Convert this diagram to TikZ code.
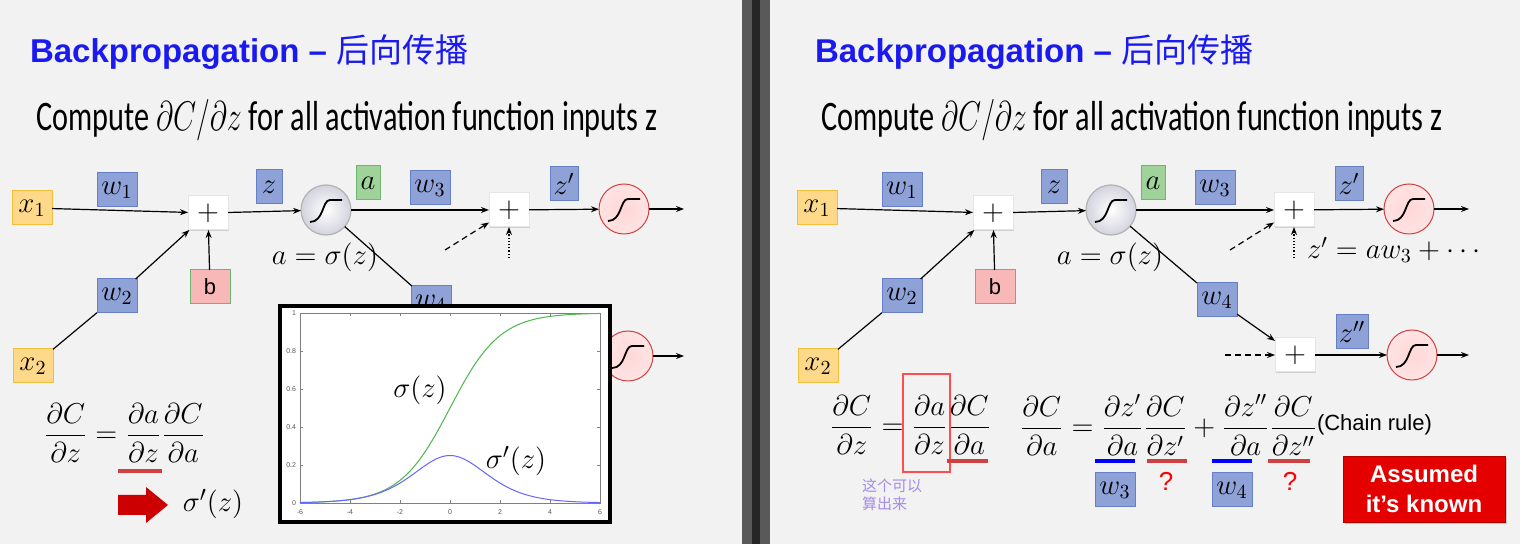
\documentclass[tikz,border=0pt]{standalone}
\usepackage{fontspec}
\usepackage{amsmath}
\setmainfont{Liberation Sans}
\newfontfamily\cjk{Noto Sans CJK SC}
\newfontfamily\carl{Carlito}
\usetikzlibrary{arrows.meta,shadows}
\definecolor{ttl}{HTML}{1A1AF0}
\definecolor{wbox}{HTML}{8EA2D8}\definecolor{wbd}{HTML}{6680C8}
\definecolor{xbox}{HTML}{FFD98A}\definecolor{xbd}{HTML}{F2BE3C}
\definecolor{abox}{HTML}{9FD39A}\definecolor{abd}{HTML}{6FB56F}
\definecolor{bbox}{HTML}{F8B8B8}
\definecolor{rc}{HTML}{FFBDBD}\definecolor{rcb}{HTML}{D04040}
\definecolor{bg}{HTML}{F2F2F2}
\definecolor{pur}{HTML}{A58CE8}
\begin{document}
\begin{tikzpicture}[x=0.5pt,y=-0.5pt,
  every node/.style={inner sep=0pt,outer sep=0pt},
  m/.style={font=\fontsize{14}{16}\selectfont},
  lm/.style={font=\fontsize{15.5}{18}\selectfont},
  eqf/.style={font=\fontsize{14.5}{17}\selectfont},
  bx/.style={m,draw,line width=0.5pt,minimum width=20pt,minimum height=17pt},
  wb/.style={bx,fill=wbox,draw=wbd},
  xb/.style={bx,fill=xbox,draw=xbd},
  ab/.style={bx,fill=abox,draw=abd,minimum width=12pt},
  bb/.style={bx,fill=bbox,draw=abd,font=\fontsize{11}{13}\selectfont},
  pl/.style={bx,fill=white,draw=gray!20,font=\fontsize{14}{15}\selectfont,drop shadow={shadow xshift=0.5pt,shadow yshift=-0.5pt,opacity=0.3}},
  sig/.style={circle,minimum size=25pt,draw=gray!60,line width=0.6pt,inner color=white,outer color=blue!15!gray!30},
  red/.style={circle,minimum size=25pt,draw=rcb,line width=0.5pt,inner color=rc!60,outer color=rc!120!red},
  ar/.style={-{Stealth[length=4pt,width=3pt]},line width=0.6pt},
  ttlf/.style={font=\fontsize{16.5}{19}\selectfont\bfseries,text=ttl,anchor=west},
  cmp/.style={font=\fontsize{21}{24}\carl,anchor=center,xscale=0.72},
]
\fill[bg] (0,0) rectangle (1520,544);
\fill[gray!70!black] (742,0) rectangle (770,544);
\fill[black!85] (752,0) rectangle (760,544);
\newcommand\Scurve[1]{\draw[line width=0.9pt] ([shift={(-16,12)}]#1.center) .. controls ([shift={(-2,12)}]#1.center) and ([shift={(-4,-10)}]#1.center) .. ([shift={(4,-10)}]#1.center) -- ([shift={(16,-10)}]#1.center);}
\newcommand\Net{%
  \node[ttlf] (title) at (30,52) {Backpropagation -- {\cjk\mdseries 后向传播}};
  \node[cmp] (comp) at (347,120) {Compute $\partial C/\partial z$ for all activation function inputs z};
  \node[xb] (x1) at (32,208) {$x_1$};
  \node[xb] (x2) at (33,366) {$x_2$};
  \node[wb] (w1) at (117,190) {$w_1$};
  \node[wb] (w2) at (117,296) {$w_2$};
  \node[pl] (p1) at (208,213) {$+$};
  \node[bb] (b) at (210,287) {b};
  \node[wb,minimum width=13pt] (z) at (269,187) {$z$};
  \node[sig] (s1) at (326,210) {};
  \node[ab] (a) at (368,183) {$a$};
  \node[lm] (asig) at (325,257) {$a=\sigma(z)$};
  \node[wb] (w3) at (430,188) {$w_3$};
  \node[pl] (p2) at (509,210) {$+$};
  \node[wb,minimum width=14pt] (zp) at (564,184) {$z'$};
  \node[red] (r1) at (624,209) {};
  \coordinate (o1) at (684,209);
  \coordinate (da) at (445,250);
  \coordinate (db) at (509,258);
  \draw[ar] (x1) -- (p1);
  \draw[line width=0.6pt] (x2) -- (w2);
  \draw[ar] (w2) -- (p1);
  \draw[ar] (b) -- (p1);
  \draw[ar] (p1) -- (s1);
  \draw[ar] (s1.east) -- (p2);
  \draw[ar] (p2) -- (r1);
  \draw[ar] (r1) -- (o1);
  \draw[ar,densely dashed] (da) -- (p2);
  \draw[ar,densely dotted] (db) -- (p2);
  \Scurve{s1}\Scurve{r1}
}
% ---------- left panel ----------
\begin{scope}[name prefix=L-]
\Net
\node[wb] (w4) at (431,303) {$w_4$};
\draw[line width=0.6pt] (s1) -- (w4);
\node[red] (r2) at (628,356) {};
\coordinate (o2) at (684,356);
\draw[ar] (r2) -- (o2);
\Scurve{r2}
\node[eqf,anchor=west] (eq) at (44,433) {$\dfrac{\partial C}{\partial z}=\dfrac{\partial a}{\partial z}\dfrac{\partial C}{\partial a}$};
\draw[red,line width=2pt] (118,471) -- (162,471);
\fill[red!80!black] (118,495) -- (146,495) -- (146,487) -- (168,505) -- (146,523) -- (146,515) -- (118,515) -- cycle;
\node[lm] (sp) at (213,504) {$\sigma'(z)$};
% plot
\fill[white,draw=black,line width=2pt,drop shadow={shadow xshift=1pt,shadow yshift=-1pt,opacity=0.4}] (280,306) rectangle (610,522);
\draw[gray,line width=0.4pt] (300,313) rectangle (600,503);
\foreach \t in {-6,-4,...,6}{
  \draw[gray,line width=0.3pt] ({450+25*\t},503) -- ++(0,-3) ({450+25*\t},313) -- ++(0,3);
  \node[font=\fontsize{3.5}{4}\selectfont,text=gray!70!black] at ({450+25*\t},512) {\t};}
\foreach \t/\l in {0/0,0.2/0.2,0.4/0.4,0.6/0.6,0.8/0.8,1/1}{
  \draw[gray,line width=0.3pt] (300,{503-190*\t}) -- ++(3,0) (600,{503-190*\t}) -- ++(-3,0);
  \node[font=\fontsize{3.5}{4}\selectfont,text=gray!70!black,anchor=east] at (296,{503-190*\t}) {\l};}
\draw[green!60!black!70,line width=0.5pt] plot[domain=-6:6,samples=100,smooth] ({450+25*\x},{503-190/(1+exp(-\x))});
\draw[blue!60,line width=0.5pt] plot[domain=-6:6,samples=100,smooth] ({450+25*\x},{503-190/((exp(\x/2)+exp(-\x/2))^2)});
\node[lm] (sg) at (420,390) {$\sigma(z)$};
\node[lm] (sgp) at (516,461) {$\sigma'(z)$};
\end{scope}
% ---------- right panel ----------
\begin{scope}[name prefix=R-,shift={(785,0)}]
\Net
\node[m,anchor=west] (zeq) at (522,250) {$z'=aw_3+\cdots$};
\node[wb] (w4) at (432,300) {$w_4$};
\node[pl] (p3) at (510,355) {$+$};
\node[wb,minimum width=16pt] (zpp) at (567,332) {$z''$};
\node[red] (r3) at (627,355) {};
\coordinate (o3) at (684,355);
\coordinate (dc) at (440,355);
\draw[line width=0.6pt] (s1) -- (w4);
\draw[ar] (w4) -- (p3);
\draw[ar] (p3) -- (r3);
\draw[ar] (r3) -- (o3);
\draw[ar,densely dashed] (dc) -- (p3);
\Scurve{r3}
\end{scope}
\node[eqf,anchor=west] (eq2) at (830,425) {$\dfrac{\partial C}{\partial z}=\dfrac{\partial a}{\partial z}\dfrac{\partial C}{\partial a}$};
\draw[red!70,line width=0.6pt] (903,374) rectangle (950,472);
\draw[red,line width=2pt] (947,461) -- (988,461);
\node[font=\fontsize{7.5}{9}\cjk,text=pur,align=left,anchor=north west] (cn) at (862,479) {这个可以\\算出来};
\node[eqf,anchor=west] (eq3) at (1020,425) {$\dfrac{\partial C}{\partial a}=\dfrac{\partial z'}{\partial a}\dfrac{\partial C}{\partial z'}+\dfrac{\partial z''}{\partial a}\dfrac{\partial C}{\partial z''}$};
\node[font=\fontsize{11}{13}\selectfont,anchor=west] (cr) at (1317,425) {(Chain rule)};
\draw[blue,line width=2pt] (1095,461) -- (1135,461) (1212,461) -- (1252,461);
\draw[red,line width=2pt] (1147,461) -- (1187,461) (1268,461) -- (1310,461);
\node[wb] (bw3) at (1115,490) {$w_3$};
\node[wb] (bw4) at (1232,490) {$w_4$};
\node[text=red,font=\fontsize{13}{15}\selectfont] (q1) at (1166,481) {?};
\node[text=red,font=\fontsize{13}{15}\selectfont] (q2) at (1290,481) {?};
\node[fill=red!90!black,draw=red!70!black,minimum width=81pt,minimum height=33pt,align=center,text=white,font=\fontsize{12}{15}\selectfont\bfseries,drop shadow={opacity=0.4,shadow xshift=1pt,shadow yshift=-1pt}] (ak) at (1424,489) {Assumed\\it’s known};
\end{tikzpicture}
\end{document}
